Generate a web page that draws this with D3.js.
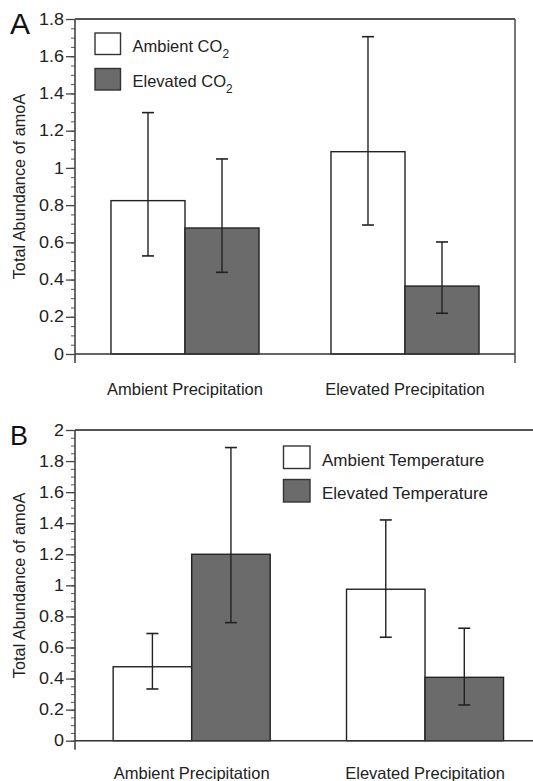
<!DOCTYPE html>
<html>
<head>
<meta charset="utf-8">
<script src="https://cdn.jsdelivr.net/npm/d3@7"></script>
<style>
  html, body { margin: 0; padding: 0; background: #fff; }
  svg { display: block; font-family: "Liberation Sans", Arial, Helvetica, sans-serif; }
</style>
</head>
<body>
<svg id="chart" width="533" height="781"></svg>
<script>
// ---------- data ----------
const categories = ["Ambient Precipitation", "Elevated Precipitation"];

// Panel A: CO2 treatment
const seriesA = ["Ambient CO2", "Elevated CO2"];
const ambientCO2 = [0.824, 1.087];
const ambientCO2Low = [0.527, 0.693];
const ambientCO2High = [1.297, 1.705];
const elevatedCO2 = [0.677, 0.365];
const elevatedCO2Low = [0.439, 0.219];
const elevatedCO2High = [1.048, 0.602];
const ticksA = [0, 0.2, 0.4, 0.6, 0.8, 1, 1.2, 1.4, 1.6, 1.8];

// Panel B: temperature treatment
const seriesB = ["Ambient Temperature", "Elevated Temperature"];
const ambientTemp = [0.476, 0.975];
const ambientTempLow = [0.333, 0.666];
const ambientTempHigh = [0.69, 1.421];
const elevatedTemp = [1.2, 0.408];
const elevatedTempLow = [0.76, 0.23];
const elevatedTempHigh = [1.887, 0.724];
const ticksB = [0, 0.2, 0.4, 0.6, 0.8, 1, 1.2, 1.4, 1.6, 1.8, 2];

const yLabel = "Total Abundance of amoA";
const fills = ["#ffffff", "#6b6b6b"];
const ink = "#222";

const svg = d3.select("#chart");

function panel(opt) {
  const g = svg.append("g");
  const x = d3.scaleBand().domain(categories).range([opt.x0, opt.x1]).padding(0);
  const xs = d3.scaleBand().domain(opt.series).range([0, x.bandwidth()])
    .paddingInner(0).paddingOuter(0.486);
  const y = d3.scaleLinear().domain([0, opt.max]).range([opt.yZero, opt.yTop]);

  // minor ticks
  const minor = d3.range(0, opt.max + 1e-9, 0.05).map(v => +v.toFixed(2));
  g.append("g").attr("transform", `translate(${opt.x0},0)`)
    .call(d3.axisLeft(y).tickValues(minor).tickSize(4).tickFormat(""))
    .call(s => s.select(".domain").remove())
    .call(s => s.selectAll("line").attr("stroke", "#555").attr("stroke-width", 1));
  // major ticks
  const ax = g.append("g").attr("transform", `translate(${opt.x0},0)`)
    .call(d3.axisLeft(y).tickValues(opt.ticks).tickSize(9).tickPadding(2)
      .tickFormat(d3.format("~g")))
    .call(s => s.select(".domain").remove())
    .call(s => s.selectAll("line").attr("stroke", "#444").attr("stroke-width", 1.3));
  ax.selectAll("text")
    .attr("font-size", 16).attr("fill", ink)
    .attr("font-family", "Liberation Sans, Arial, sans-serif")
    .each(function () {
      const w = this.getComputedTextLength();
      d3.select(this).attr("textLength", w * 1.12).attr("lengthAdjust", "spacingAndGlyphs");
    });

  // frame: left axis (extends below zero), top line, optional right line
  g.append("line").attr("x1", opt.x0).attr("x2", opt.x0)
    .attr("y1", y(opt.max)).attr("y2", y(0) + 9)
    .attr("stroke", "#444").attr("stroke-width", 1.6);
  g.append("line").attr("x1", opt.x0).attr("x2", opt.x1)
    .attr("y1", y(opt.max)).attr("y2", y(opt.max))
    .attr("stroke", "#555").attr("stroke-width", 1.8);
  if (opt.rightFrame) {
    g.append("line").attr("x1", opt.x1).attr("x2", opt.x1)
      .attr("y1", y(opt.max)).attr("y2", y(0) + 9)
      .attr("stroke", "#555").attr("stroke-width", 1.6);
  }

  // bars
  const groups = g.selectAll(".grp").data(categories).join("g")
    .attr("transform", d => `translate(${x(d)},0)`);
  opt.series.forEach((s, si) => {
    groups.append("rect")
      .attr("x", xs(s))
      .attr("width", xs.bandwidth())
      .attr("y", (d, i) => y(opt.values[si][i]))
      .attr("height", (d, i) => y(0) - y(opt.values[si][i]))
      .attr("fill", fills[si])
      .attr("stroke", "#222").attr("stroke-width", 1.4);
  });
  // zero line
  g.append("line").attr("x1", opt.x0).attr("x2", opt.x1)
    .attr("y1", y(0)).attr("y2", y(0))
    .attr("stroke", "#333").attr("stroke-width", 1.6);
  // error bars
  opt.series.forEach((s, si) => {
    const cx = (d) => x(d) + xs(s) + xs.bandwidth() / 2;
    categories.forEach((c, i) => {
      const lo = y(opt.lows[si][i]), hi = y(opt.highs[si][i]), xc = cx(c);
      g.append("line").attr("x1", xc).attr("x2", xc).attr("y1", lo).attr("y2", hi)
        .attr("stroke", "#222").attr("stroke-width", 1.4);
      [lo, hi].forEach(yy => g.append("line")
        .attr("x1", xc - 6).attr("x2", xc + 6).attr("y1", yy).attr("y2", yy)
        .attr("stroke", "#222").attr("stroke-width", 1.6));
    });
  });

  // category labels
  g.selectAll(".cat").data(categories).join("text")
    .attr("x", d => x(d) + x.bandwidth() / 2)
    .attr("y", y(0) + opt.catOffset)
    .attr("text-anchor", "middle").attr("font-size", 16.5).attr("fill", ink)
    .text(d => d);

  // y label
  g.append("text")
    .attr("transform", `translate(${opt.yLabelX},${(y(0) + y(opt.max)) / 2}) rotate(-90)`)
    .attr("text-anchor", "middle").attr("font-size", 16.3).attr("fill", ink)
    .text(yLabel);

  // panel letter
  g.append("text").attr("x", 10).attr("y", opt.letterY)
    .attr("font-size", opt.letterSize).attr("fill", "#111").text(opt.letter);

  // legend
  opt.series.forEach((s, si) => {
    const ly = opt.legY + si * opt.legStep;
    g.append("rect").attr("x", opt.legX).attr("y", ly)
      .attr("width", opt.legBox[0]).attr("height", opt.legBox[1])
      .attr("fill", fills[si]).attr("stroke", "#333").attr("stroke-width", 1.4);
    const t = g.append("text").attr("x", opt.legX + opt.legBox[0] + opt.legGap)
      .attr("y", ly + opt.legBox[1] - 3).attr("font-size", opt.legFont).attr("fill", ink);
    const m = s.match(/^(.*CO)2$/);
    if (m) {
      t.append("tspan").text(m[1]);
      t.append("tspan").attr("font-size", opt.legFont * 0.72).attr("dy", 6).text("2");
    } else {
      t.text(s);
    }
  });
}

panel({
  letter: "A", letterY: 34, letterSize: 30,
  x0: 75, x1: 515, yTop: 19, yZero: 354, max: 1.8, ticks: ticksA,
  series: seriesA,
  values: [ambientCO2, elevatedCO2],
  lows: [ambientCO2Low, elevatedCO2Low],
  highs: [ambientCO2High, elevatedCO2High],
  rightFrame: true, catOffset: 41, yLabelX: 25,
  legX: 95, legY: 33, legStep: 35.5, legBox: [25.5, 21.5], legGap: 12, legFont: 16.5
});

panel({
  letter: "B", letterY: 445, letterSize: 27,
  x0: 75, x1: 541.7, yTop: 430, yZero: 740.7, max: 2, ticks: ticksB,
  series: seriesB,
  values: [ambientTemp, elevatedTemp],
  lows: [ambientTempLow, elevatedTempLow],
  highs: [ambientTempHigh, elevatedTempHigh],
  rightFrame: false, catOffset: 38.6, yLabelX: 25,
  legX: 283.5, legY: 446, legStep: 33.5, legBox: [26.5, 22.5], legGap: 12, legFont: 17
});
</script>
</body>
</html>
